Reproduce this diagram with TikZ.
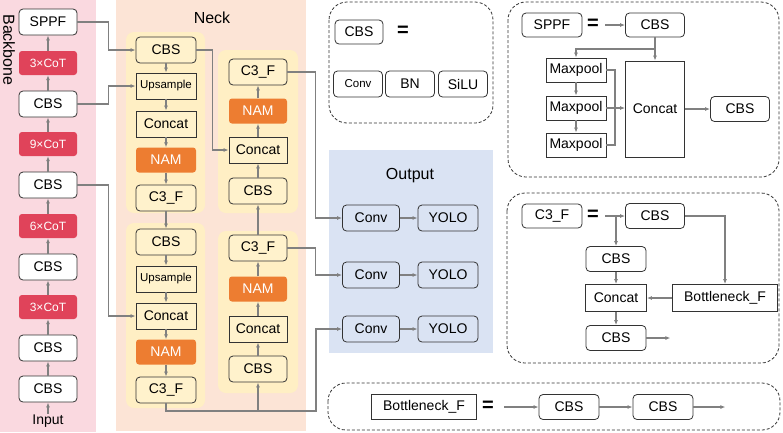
\documentclass[tikz,border=0pt]{standalone}
\usepackage{fontspec}
\setmainfont{Liberation Sans}
\usetikzlibrary{arrows.meta}
\definecolor{bbpink}{HTML}{FAD9E0}
\definecolor{cotred}{HTML}{E0435A}
\definecolor{neckbg}{HTML}{FCE4D6}
\definecolor{grpyellow}{HTML}{FFEFC4}
\definecolor{boxyellow}{HTML}{FFF2CC}
\definecolor{namorange}{HTML}{ED7D31}
\definecolor{outblue}{HTML}{DAE3F3}
\definecolor{linegray}{HTML}{808080}
\definecolor{boxline}{HTML}{333333}

\begin{document}
\begin{tikzpicture}[x=1pt,y=-1pt,>={Latex[length=5pt,width=4pt]},
  font=\fontsize{14}{16}\selectfont,
  blk/.style={rectangle,draw=boxline,line width=0.8pt,inner sep=0pt,minimum width=58pt,minimum height=26pt},
  cbs/.style={blk,rounded corners=4pt,fill=white},
  sq/.style={blk,fill=white},
  cot/.style={rectangle,rounded corners=3pt,fill=cotred,text=white,inner sep=0pt,minimum width=58pt,minimum height=24pt,font=\fontsize{12}{14}\selectfont},
  nam/.style={rectangle,rounded corners=3pt,fill=namorange,text=white,inner sep=0pt,minimum width=60pt,minimum height=25pt},
  flow/.style={->,draw=linegray,line width=1.1pt},
  plain/.style={draw=linegray,line width=1.1pt},
  group/.style={fill=grpyellow,rounded corners=8pt},
  panel/.style={draw=boxline,dash pattern=on 3pt off 2pt,line width=0.8pt,rounded corners=18pt},
  eqsign/.style={font=\fontsize{20}{20}\bfseries\selectfont}]
\useasboundingbox (0,0) rectangle (783,432);

\fill[bbpink] (0,0) rectangle (96,432);
\node[rotate=-90,font=\fontsize{16}{18}\selectfont] (bbtitle) at (9,50) {Backbone};
\node[cbs] (b1) at (48,389) {CBS};
\node[cbs] (b2) at (48,348) {CBS};
\node[cot] (b3) at (48,307) {3×CoT};
\node[cbs] (b4) at (48,267) {CBS};
\node[cot] (b5) at (48,226) {6×CoT};
\node[cbs] (b6) at (48,185) {CBS};
\node[cot] (b7) at (48,144) {9×CoT};
\node[cbs] (b8) at (48,104) {CBS};
\node[cot] (b9) at (48,63) {3×CoT};
\node[cbs] (sppf) at (48,22) {SPPF};
\node[inner sep=1pt] (inp) at (48,421) {Input};
\draw[flow] (inp) -- (b1);
\draw[flow] (b1) -- (b2);
\draw[flow] (b2) -- (b3);
\draw[flow] (b3) -- (b4);
\draw[flow] (b4) -- (b5);
\draw[flow] (b5) -- (b6);
\draw[flow] (b6) -- (b7);
\draw[flow] (b7) -- (b8);
\draw[flow] (b8) -- (b9);
\draw[flow] (b9) -- (sppf);

\fill[neckbg] (116,0) rectangle (306,431);
\node[font=\fontsize{16}{18}\selectfont] (necktitle) at (212,18) {Neck};
\fill[group] (126,32) rectangle (205,213);
\fill[group] (126,223) rectangle (205,408);
\fill[group] (218,50) rectangle (298,213);
\fill[group] (218,231) rectangle (298,393);
\tikzset{cbs/.append style={fill=boxyellow,minimum width=60pt},sq/.append style={fill=boxyellow,minimum width=60pt}}
\node[cbs] (n1) at (166,50) {CBS};
\node[sq,font=\fontsize{11.5}{13}\selectfont] (up1) at (166,86) {Upsample};
\node[sq] (cc1) at (166,124) {Concat};
\node[nam] (nam1) at (166,160) {NAM};
\node[cbs] (c3a) at (166,198) {C3\_F};
\node[cbs] (n2) at (166,242) {CBS};
\node[sq,font=\fontsize{11.5}{13}\selectfont] (up2) at (166,279) {Upsample};
\node[sq] (cc2) at (166,316) {Concat};
\node[nam] (nam2) at (166,352) {NAM};
\node[cbs] (c3b) at (166,390) {C3\_F};
\node[cbs,minimum width=58pt] (c3d) at (258,72) {C3\_F};
\node[nam,minimum width=58pt] (nam4) at (258,111) {NAM};
\node[sq,minimum width=58pt] (cc4) at (258,150) {Concat};
\node[cbs,minimum width=58pt] (n4) at (258,191) {CBS};
\node[cbs,minimum width=58pt] (c3c) at (258,248) {C3\_F};
\node[nam,minimum width=58pt] (nam3) at (258,289) {NAM};
\node[sq,minimum width=58pt] (cc3) at (258,329) {Concat};
\node[cbs,minimum width=58pt] (n3) at (258,369) {CBS};
\coordinate (jn) at (258,411);

\draw[flow] (sppf.east) -- ++(31,0) |- (n1.west);
\draw[flow] (b8.east) -- ++(31,0) |- (up1.west);
\draw[flow] (b6.east) -- ++(31,0) |- (cc2.west);
\draw[flow] (n1) -- (up1);
\draw[flow] (up1) -- (cc1);
\draw[flow] (cc1) -- (nam1);
\draw[flow] (nam1) -- (c3a);
\draw[flow] (c3a) -- (n2);
\draw[flow] (n2) -- (up2);
\draw[flow] (up2) -- (cc2);
\draw[flow] (cc2) -- (nam2);
\draw[flow] (nam2) -- (c3b);
\draw[flow] (n1.east) -- ++(16,0) |- (cc4.west);
\draw[flow] (n3) -- (cc3);
\draw[flow] (cc3) -- (nam3);
\draw[flow] (nam3) -- (c3c);
\draw[flow] (c3c) -- (n4);
\draw[flow] (n4) -- (cc4);
\draw[flow] (cc4) -- (nam4);
\draw[flow] (nam4) -- (c3d);
\draw[flow] (jn) -- (n3);

\fill[outblue] (329,150) rectangle (493,353);
\node[font=\fontsize{16}{18}\selectfont] (outtitle) at (410,176) {Output};
\tikzset{ob/.style={blk,rounded corners=4pt,fill=outblue,minimum height=26pt}}
\node[ob,minimum width=57pt] (cv1) at (371,218) {Conv};
\node[ob,minimum width=60pt] (yl1) at (448,218) {YOLO};
\node[ob,minimum width=57pt] (cv2) at (371,275) {Conv};
\node[ob,minimum width=60pt] (yl2) at (448,275) {YOLO};
\node[ob,minimum width=57pt] (cv3) at (371,329) {Conv};
\node[ob,minimum width=60pt] (yl3) at (448,329) {YOLO};
\draw[flow] (cv1) -- (yl1);
\draw[flow] (cv2) -- (yl2);
\draw[flow] (cv3) -- (yl3);
\draw[flow] (c3d.east) -- ++(28,0) |- (cv1.west);
\draw[flow] (c3c.east) -- ++(28,0) |- (cv2.west);
\draw[flow] (c3b.south) |- (jn) -- (316,411) |- (cv3.west);

\tikzset{cbs/.append style={fill=white},sq/.append style={fill=white}}
\draw[panel] (329,2) rectangle (493,123);
\node[cbs,minimum width=48pt,minimum height=24pt] (cbsk) at (359,32) {CBS};
\node[eqsign] (eq1) at (403,31) {=};
\node[cbs,minimum width=49pt,font=\fontsize{11.5}{13}\selectfont] (conv) at (358,84) {Conv};
\node[cbs,minimum width=49pt] (bn) at (410,84) {BN};
\node[cbs,minimum width=49pt] (silu) at (463,84) {SiLU};

\draw[panel] (508,2) rectangle (779,177);
\node[cbs,minimum width=60pt,minimum height=24pt] (sppfk) at (552,25) {SPPF};
\node[eqsign] (eq2) at (593,24) {=};
\coordinate (s0) at (605,25);
\node[cbs,minimum width=59pt,minimum height=24pt] (cbsa) at (655,25) {CBS};
\node[sq,minimum width=60pt,minimum height=24pt] (mp1) at (576,70) {Maxpool};
\node[sq,minimum width=60pt,minimum height=24pt] (mp2) at (576,108) {Maxpool};
\node[sq,minimum width=60pt,minimum height=24pt] (mp3) at (576,145) {Maxpool};
\node[sq,minimum width=59pt,minimum height=96pt] (ccs) at (655,109) {Concat};
\node[cbs,minimum width=59pt,minimum height=25pt] (cbsb) at (740,109) {CBS};
\draw[flow] (s0) -- (cbsa);
\draw[flow] (cbsa) -- (ccs);
\draw[flow] (655,49) -| (mp1.north);
\draw[flow] (mp1) -- (mp2);
\draw[flow] (mp2) -- (mp3);
\draw[plain] (mp1.east) -| (615,108);
\draw[plain] (mp3.east) -| (615,108);
\draw[flow] (mp2) -- (ccs.west |- mp2);
\draw[flow] (ccs) -- (cbsb);

\draw[panel] (507,193) rectangle (779,363);
\node[cbs,minimum width=60pt,minimum height=24pt] (c3k) at (552,216) {C3\_F};
\node[eqsign] (eq3) at (593,215) {=};
\coordinate (t0) at (605,216);
\node[cbs,minimum width=59pt,minimum height=25pt] (cbsc) at (655,216) {CBS};
\node[cbs,minimum width=60pt,minimum height=25pt] (cbsd) at (616,259) {CBS};
\node[sq,minimum width=61pt,minimum height=27pt] (cct) at (616,298) {Concat};
\node[cbs,minimum width=60pt,minimum height=25pt] (cbse) at (616,338) {CBS};
\node[sq,minimum width=105pt,minimum height=27pt] (bnf) at (725,298) {Bottleneck\_F};
\draw[flow] (t0) -- (cbsc);
\draw[flow] (616,216) -- (cbsd);
\draw[flow] (cbsd) -- (cct);
\draw[flow] (cct) -- (cbse);
\draw[flow] (cbsc.east) -| (bnf.north);
\draw[flow] (bnf) -- (cct);
\draw[flow] (cbse.east) -- ++(24,0);

\draw[panel] (328,383) rectangle (780,430);
\node[sq,minimum width=105pt,minimum height=25pt] (bnk) at (424,407) {Bottleneck\_F};
\node[eqsign] (eq4) at (488,406) {=};
\coordinate (u0) at (504,407);
\node[cbs,minimum width=60pt,minimum height=25pt] (cbsf) at (569,407) {CBS};
\node[cbs,minimum width=60pt,minimum height=25pt] (cbsg) at (663,407) {CBS};
\draw[flow] (u0) -- (cbsf);
\draw[flow] (cbsf) -- (cbsg);
\draw[flow] (cbsg.east) -- ++(32,0);
\end{tikzpicture}
\end{document}
